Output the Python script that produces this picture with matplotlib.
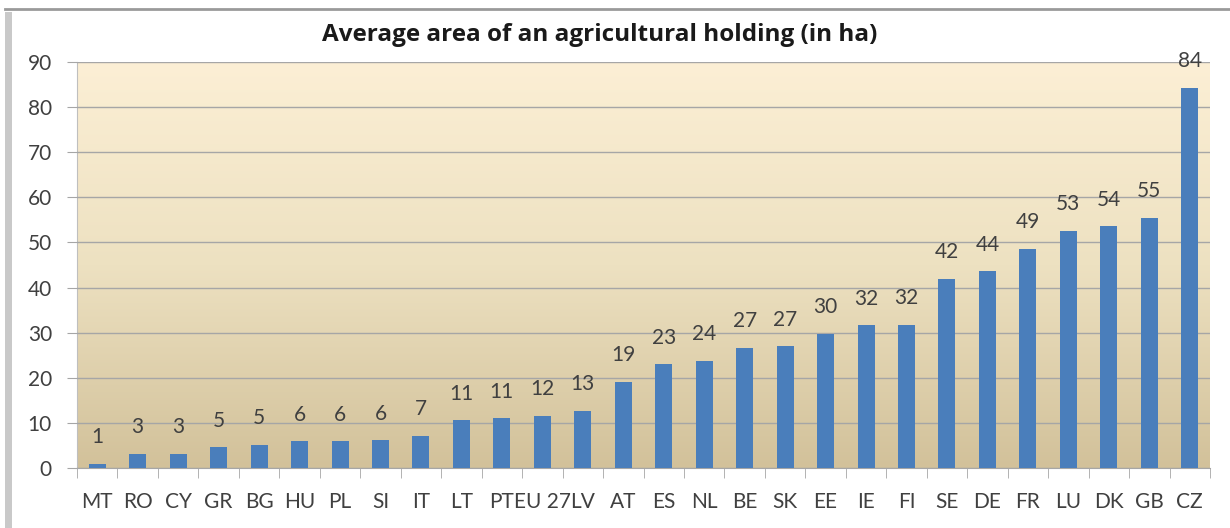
import numpy as np
import matplotlib
matplotlib.use("Agg")
import matplotlib.pyplot as plt
from matplotlib.colors import LinearSegmentedColormap
from matplotlib.lines import Line2D
from matplotlib.patches import Rectangle

countries = ["MT", "RO", "CY", "GR", "BG", "HU", "PL", "SI", "IT", "LT", "PT", "EU 27", "LV",
             "AT", "ES", "NL", "BE", "SK", "EE", "IE", "FI", "SE", "DE", "FR", "LU", "DK", "GB", "CZ"]
area_ha = [0.9, 3.2, 3.1, 4.6, 5.1, 5.9, 5.9, 6.1, 7.2, 10.6, 11.0, 11.6, 12.7,
           19.1, 23.0, 23.8, 26.6, 27.0, 29.7, 31.6, 31.8, 42.0, 43.6, 48.6, 52.6, 53.6, 55.4, 84.2]
yticks = list(range(0, 91, 10))

plt.rcParams['font.family'] = ['Lato', 'DejaVu Sans']
txt = '#404040'
grid = '#a6a6a6'

fig = plt.figure(figsize=(12.3, 5.28), dpi=100)
ax = fig.add_axes([77 / 1230, 60 / 528, (1210 - 77) / 1230, (467 - 61) / 528])

# frame of the chart object
fig.patches.append(Rectangle((5 / 1230, 0), 7 / 1230, 1 - 12 / 528, transform=fig.transFigure,
                             facecolor='#c9c9c9', edgecolor='none'))
fig.lines.append(Line2D([5 / 1230, 1], [1 - 9 / 528] * 2, transform=fig.transFigure,
                        color='#9a9a9a', lw=2))

n = len(countries)
x = np.arange(n)

# background gradient
cmap = LinearSegmentedColormap.from_list('bg', ['#d2c19a', '#ede1c1', '#fcefd5'])
grad = np.linspace(0, 1, 256).reshape(-1, 1)
ax.imshow(grad, cmap=cmap, origin='lower', aspect='auto',
          extent=(-0.5, n - 0.5, 0, 90), zorder=0)

ax.bar(x, area_ha, width=0.42, color='#4a7ebb', zorder=3)
for xi, v in zip(x, area_ha):
    ax.annotate(f"{v:.0f}", (xi, v), xytext=(0, 12), textcoords='offset points',
                ha='center', va='bottom', fontsize=15, color=txt)

ax.set_xlim(-0.5, n - 0.5)
ax.set_ylim(0, 90)
ax.set_yticks(yticks)
ax.tick_params(axis='y', length=7, color=grid, labelsize=15, labelcolor=txt, pad=11)
ax.yaxis.grid(True, color=grid, lw=1, zorder=1)
ax.set_axisbelow(False)

ax.set_xticks(x)
ax.set_xticklabels(countries)
ax.set_xticks(np.arange(-0.5, n, 1), minor=True)
ax.tick_params(axis='x', which='major', length=0, labelsize=15, labelcolor=txt, pad=17)
ax.tick_params(axis='x', which='minor', length=7, color=grid)

for s in ['top', 'right']:
    ax.spines[s].set_visible(False)
ax.spines['left'].set_color('#bfbfbf')
ax.spines['bottom'].set_color(grid)

fig.text(600 / 1230, 1 - 35 / 528, "Average area of an agricultural holding (in ha)",
         ha='center', va='center', fontsize=17.5, fontweight='bold', color='#1a1a1a',
         family=['Open Sans', 'DejaVu Sans'])

fig.savefig('out.png', dpi=100)
